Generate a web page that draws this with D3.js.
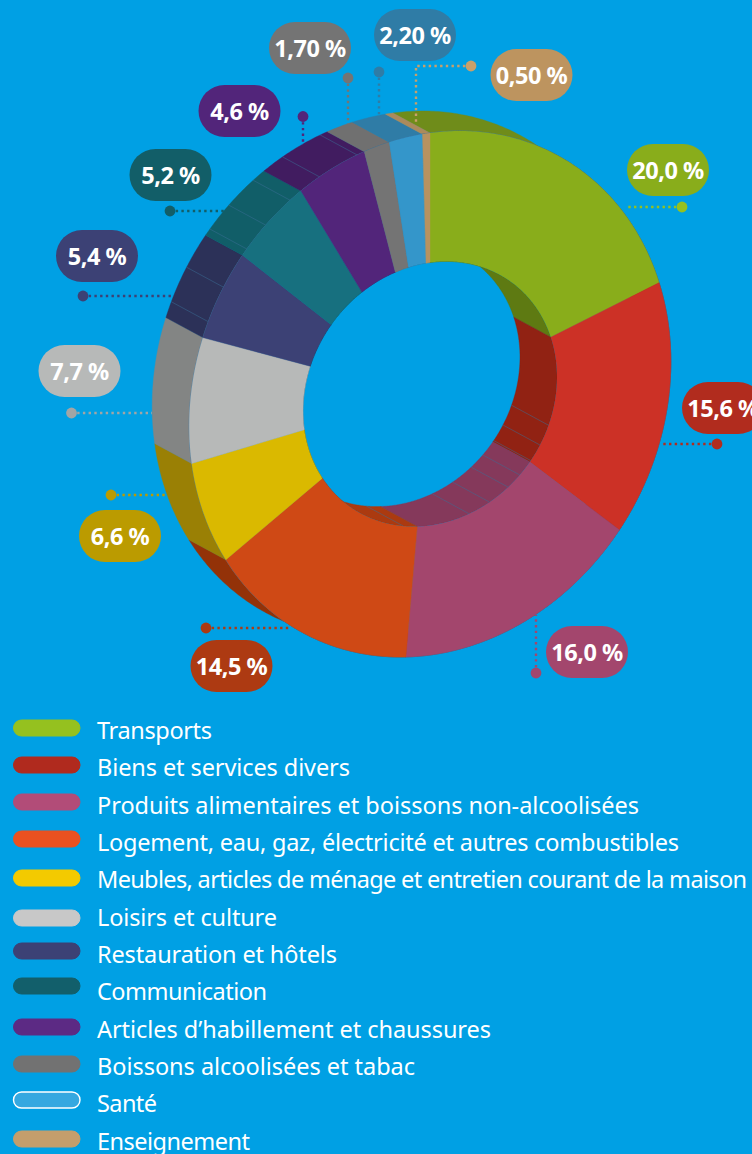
<!DOCTYPE html>
<html lang="fr">
<head>
<meta charset="utf-8">
<title>Poids des postes de consommation</title>
<script src="https://d3js.org/d3.v7.min.js"></script>
<style>
  html, body { margin: 0; padding: 0; background: #00a0e4; overflow: hidden; }
  svg { display: block; }
  text { font-family: "Noto Sans", sans-serif; fill: #fff; }
  .pill-label { font-size: 23.5px; font-weight: 700; text-anchor: middle; letter-spacing: -0.5px; }
  .legend-label { font-size: 23.5px; }
</style>
</head>
<body>
<svg></svg>
<script>
// DATA

const categories = [
  "Transports",
  "Biens et services divers",
  "Produits alimentaires et boissons non-alcoolisées",
  "Logement, eau, gaz, électricité et autres combustibles",
  "Meubles, articles de ménage et entretien courant de la maison",
  "Loisirs et culture",
  "Restauration et hôtels",
  "Communication",
  "Articles d’habillement et chaussures",
  "Boissons alcoolisées et tabac",
  "Santé",
  "Enseignement"
];
const values = [20.0, 15.6, 16.0, 14.5, 6.6, 7.7, 5.4, 5.2, 4.6, 1.7, 2.2, 0.5];
const valueLabels = ["20,0 %", "15,6 %", "16,0 %", "14,5 %", "6,6 %", "7,7 %", "5,4 %", "5,2 %", "4,6 %", "1,70 %", "2,20 %", "0,50 %"];

// COLORS

const faceColors = ["#89ad1b", "#cc3126", "#a3466d", "#cf4915", "#dab900", "#b7b9b8", "#3c4175", "#17707f", "#52257a", "#747474", "#3496ca", "#b79260"];
const outerWallColors = ["#6f8c1a", "#8f2213", "#86395b", "#933208", "#9a8005", "#838584", "#2c3158", "#115e68", "#411c60", "#707070", "#2f7ca6", "#ab8a5c"];
const innerWallColors = ["#5e7a12", "#912213", "#85395b", "#ab3a10", "#9a8005", "#838584", "#2c3158", "#115e68", "#411c60", "#707070", "#2f7ca6", "#ab8a5c"];
const pillColors = ["#89ad1b", "#b12c1e", "#a3466d", "#ad3a12", "#bb9b00", "#b7b9b8", "#3c4175", "#125e68", "#52257a", "#747474", "#2f7ca6", "#bd945f"];
const dotColors = ["#95c11f", "#b12c1e", "#a3466d", "#ad3a12", "#bb9b00", "#a3a5a5", "#3c4175", "#125e68", "#52257a", "#747474", "#2f7ca6", "#c9a06a"];
const swatchColors = ["#95c11f", "#b02a1e", "#b24c78", "#ea5120", "#f3ca00", "#c8c8c8", "#3c4175", "#125f6b", "#5c2a84", "#727272", "#35a8e0", "#c49e6c"];

// PAGE SETUP

let width = 752;
let height = 1154;

let svg = d3.select("svg")
  .attr("width", width)
  .attr("height", height);

// RING GEOMETRY

// the ring is a tilted disc, so every radius is a skewed ellipse around the same centre
let center = {x: 430, y: 394};
let depth = {x: -37, y: -20};
let outerRing = {ax: 240.8, bx: -32.3, by: 261};
let innerRing = {ax: 127, bx: -17, by: 131.5};

function project(angle, ring, back){
  let s = Math.sin(angle), c = -Math.cos(angle);
  let x = center.x + ring.ax * s;
  let y = center.y + ring.bx * s + ring.by * c;
  return back ? [x + depth.x, y + depth.y] : [x, y];
}

function arcPoints(a0, a1, ring, back){
  let n = Math.max(2, Math.ceil(Math.abs(a1 - a0) / 0.01));
  return d3.range(n + 1).map(i => project(a0 + (a1 - a0) * i / n, ring, back));
}

let closedLine = d3.line().curve(d3.curveLinearClosed);
let angleScale = d3.scaleLinear().domain([0, 360]).range([0, 2 * Math.PI]);

let slices = d3.pie().sort(null).value(d => d)(values);

function facePath(d){
  return closedLine(arcPoints(d.startAngle, d.endAngle, outerRing, false)
    .concat(arcPoints(d.endAngle, d.startAngle, innerRing, false)));
}
function wallPath(d, ring){
  return closedLine(arcPoints(d.startAngle, d.endAngle, ring, false)
    .concat(arcPoints(d.endAngle, d.startAngle, ring, true)));
}

svg.append("clipPath").attr("id", "hole")
  .append("path")
  .attr("d", closedLine(arcPoints(0, 2 * Math.PI, innerRing, false)));

// render seams across the walls, in degrees around the ring
let outerSeams = [293, 301, 310.5, 317, 324.5, 332.7, 342.4];
let innerSeams = [111, 120, 127.5, 135, 142, 152, 162, 192];
let seamColor = "#3a6f96";

// OUTER WALL

svg.append("g").selectAll("path")
  .data(slices)
  .enter()
  .append("path")
  .attr("d", d => wallPath(d, outerRing))
  .attr("fill", (d, i) => outerWallColors[i])
  .attr("stroke", (d, i) => outerWallColors[i])
  .attr("stroke-width", 0.4);

svg.append("g").selectAll("line")
  .data(outerSeams)
  .enter()
  .append("line")
  .attr("x1", d => project(angleScale(d), outerRing, false)[0])
  .attr("y1", d => project(angleScale(d), outerRing, false)[1])
  .attr("x2", d => project(angleScale(d), outerRing, true)[0])
  .attr("y2", d => project(angleScale(d), outerRing, true)[1])
  .attr("stroke", seamColor)
  .attr("stroke-width", 0.5);

svg.append("path")
  .attr("d", closedLine(arcPoints(0, 2 * Math.PI, outerRing, false)))
  .attr("fill", "none")
  .attr("stroke", seamColor)
  .attr("stroke-width", 1);

// FRONT FACE

svg.append("g").selectAll("path")
  .data(slices)
  .enter()
  .append("path")
  .attr("d", facePath)
  .attr("fill", (d, i) => faceColors[i])
  .attr("stroke", (d, i) => faceColors[i])
  .attr("stroke-width", 0.4);

// INNER WALL, only seen through the hole

let innerWall = svg.append("g").attr("clip-path", "url(#hole)");

innerWall.selectAll("path")
  .data(slices)
  .enter()
  .append("path")
  .attr("d", d => wallPath(d, innerRing))
  .attr("fill", (d, i) => innerWallColors[i])
  .attr("stroke", (d, i) => innerWallColors[i])
  .attr("stroke-width", 0.4);

innerWall.selectAll("line")
  .data(innerSeams)
  .enter()
  .append("line")
  .attr("x1", d => project(angleScale(d), innerRing, false)[0])
  .attr("y1", d => project(angleScale(d), innerRing, false)[1])
  .attr("x2", d => project(angleScale(d), innerRing, true)[0])
  .attr("y2", d => project(angleScale(d), innerRing, true)[1])
  .attr("stroke", seamColor)
  .attr("stroke-width", 0.5);

// CALLOUTS

// pill = top left corner, dot = end of the leader, path = where the leader runs
let callouts = [
  {pill: [627, 144], dot: [682, 207], leader: [[625, 207]]},
  {pill: [682, 382], dot: [717, 444], leader: [[660, 444]]},
  {pill: [546, 626], dot: [536, 673], leader: [[536, 615]]},
  {pill: [190.5, 640], dot: [206, 628], leader: [[291, 628]]},
  {pill: [79, 510], dot: [111, 495], leader: [[165, 495]]},
  {pill: [38.5, 345], dot: [71.5, 413], leader: [[152, 413]]},
  {pill: [56, 230], dot: [83, 296], leader: [[173, 296]]},
  {pill: [129.5, 149], dot: [170, 211], leader: [[224, 211]]},
  {pill: [198.5, 85], dot: [303, 116.5], leader: [[303, 145]]},
  {pill: [269, 22], dot: [348, 78], leader: [[348, 124]]},
  {pill: [374, 9], dot: [379, 72], leader: [[379, 116]]},
  {pill: [490.5, 49], dot: [471, 66], leader: [[416, 66], [416, 123]]}
];
let pillWidth = 82;
let pillHeight = 52;

let calloutGroups = svg.append("g").selectAll("g")
  .data(callouts)
  .enter()
  .append("g");

calloutGroups.append("path")
  .attr("d", d => d3.line()([d.dot].concat(d.leader)))
  .attr("fill", "none")
  .attr("stroke", (d, i) => dotColors[i])
  .attr("stroke-width", 2.4)
  .attr("stroke-dasharray", "2.4 3.3");

calloutGroups.append("circle")
  .attr("cx", d => d.dot[0])
  .attr("cy", d => d.dot[1])
  .attr("r", 5.4)
  .attr("fill", (d, i) => dotColors[i]);

calloutGroups.append("rect")
  .attr("x", d => d.pill[0])
  .attr("y", d => d.pill[1])
  .attr("width", pillWidth)
  .attr("height", pillHeight)
  .attr("rx", pillHeight / 2)
  .attr("fill", (d, i) => pillColors[i]);

calloutGroups.append("text")
  .attr("class", "pill-label")
  .attr("x", d => d.pill[0] + pillWidth / 2)
  .attr("y", d => d.pill[1] + pillHeight / 2 + 8.5)
  .text((d, i) => valueLabels[i]);

// LEGEND

let legendY = d3.scaleLinear().domain([0, categories.length - 1]).range([739, 1149.5]);
// the swatches do not sit on a regular step in the original
let swatchCenters = [728, 765, 802, 839, 878, 918, 951, 986, 1027, 1064, 1100, 1139];
// right edge of each label, the font here runs a little wider than the original
let legendEnds = [212, 350, 639, 679, 747, 277, 337, 267, 491, 415, 157, 250];
let legendX = 97;

let legendRows = svg.append("g").selectAll("g")
  .data(categories)
  .enter()
  .append("g");

legendRows.append("rect")
  .attr("x", 13.5)
  .attr("y", (d, i) => swatchCenters[i] - 8)
  .attr("width", 66.5)
  .attr("height", 16)
  .attr("rx", 8)
  .attr("fill", (d, i) => swatchColors[i])
  .attr("stroke", (d, i) => d == "Santé" ? "#fff" : swatchColors[i])
  .attr("stroke-width", d => d == "Santé" ? 1.4 : 1);

legendRows.append("text")
  .attr("class", "legend-label")
  .attr("x", legendX)
  .attr("y", (d, i) => legendY(i))
  .attr("textLength", (d, i) => legendEnds[i] - legendX)
  .attr("lengthAdjust", "spacing")
  .text(d => d);
</script>
</body>
</html>
